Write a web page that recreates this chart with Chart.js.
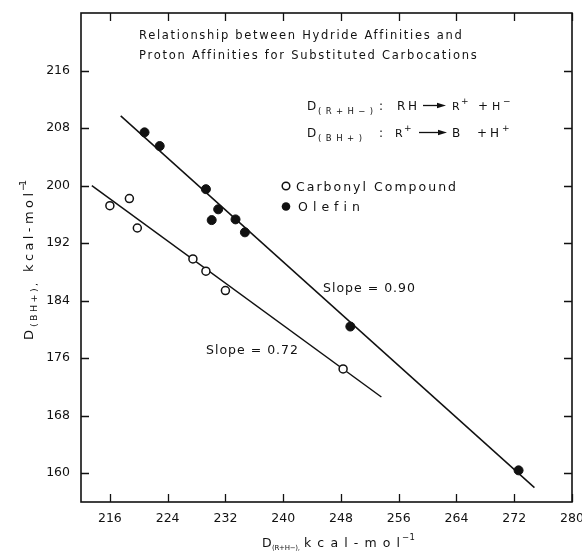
<!DOCTYPE html>
<html>
<head>
<meta charset="utf-8">
<title>Hydride vs proton affinities</title>
<script src="https://cdn.jsdelivr.net/npm/chart.js@4/dist/chart.umd.min.js"></script>
<style>
  html, body { margin: 0; padding: 0; background: #fff; }
  #wrap { width: 582px; height: 552px; position: relative; }
</style>
</head>
<body>
<div id="wrap"><canvas id="chart"></canvas></div>
<script>
  // D(R+H-) on x, D(BH+) on y, kcal/mol
  var carbonylX = [216.0, 218.7, 219.8, 227.5, 229.3, 232.0, 248.3];
  var carbonylY = [197.2, 198.2, 194.1, 189.8, 188.1, 185.4, 174.5];
  var olefinX = [220.8, 222.9, 229.3, 230.1, 231.0, 233.4, 234.7, 249.3, 272.6];
  var olefinY = [207.4, 205.5, 199.5, 195.2, 196.7, 195.3, 193.5, 180.4, 160.4];

  // least-squares lines, end points only
  var carbonylFitX = [213.5, 253.6];
  var carbonylFitY = [200.0, 170.6];
  var olefinFitX = [217.5, 274.8];
  var olefinFitY = [209.7, 158.0];

  var xTicks = [216, 224, 232, 240, 248, 256, 264, 272, 280];
  var yTicks = [160, 168, 176, 184, 192, 200, 208, 216];

  var INK = "#111";
  var FONT = '"DejaVu Sans", sans-serif';

  function pts(xs, ys) {
    return xs.map(function (x, i) { return { x: x, y: ys[i] }; });
  }

  // draw text stretched (via letter spacing) between x0 and x1
  function fitText(ctx, text, x0, x1, y, size) {
    ctx.font = size + "px " + FONT;
    ctx.letterSpacing = "0px";
    var n = Array.from(text).length;
    if (n > 1) {
      var natural = ctx.measureText(text).width;
      ctx.letterSpacing = ((x1 - x0 - natural) / (n - 1)) + "px";
    }
    ctx.fillText(text, x0, y);
    ctx.letterSpacing = "0px";
  }

  function arrow(ctx, x0, x1, y) {
    ctx.beginPath();
    ctx.moveTo(x0, y);
    ctx.lineTo(x1 - 6, y);
    ctx.stroke();
    ctx.beginPath();
    ctx.moveTo(x1, y);
    ctx.lineTo(x1 - 9, y - 2.8);
    ctx.lineTo(x1 - 9, y + 2.8);
    ctx.closePath();
    ctx.fill();
  }

  var framePlugin = {
    id: "frame",
    afterDraw: function (chart) {
      var ctx = chart.ctx;
      var a = chart.chartArea;
      var xs = chart.scales.x, ys = chart.scales.y;
      var TL = 8;
      ctx.save();
      ctx.strokeStyle = INK;
      ctx.fillStyle = INK;
      ctx.lineWidth = 1.6;
      ctx.strokeRect(a.left, a.top, a.right - a.left, a.bottom - a.top);

      // ticks point into the plot on all four sides
      ctx.lineWidth = 1.3;
      ctx.beginPath();
      xTicks.forEach(function (v) {
        var px = Math.round(xs.getPixelForValue(v)) + 0.5;
        ctx.moveTo(px, a.bottom); ctx.lineTo(px, a.bottom - TL);
        ctx.moveTo(px, a.top); ctx.lineTo(px, a.top + TL);
      });
      yTicks.forEach(function (v) {
        var py = Math.round(ys.getPixelForValue(v)) + 0.5;
        ctx.moveTo(a.left, py); ctx.lineTo(a.left + TL, py);
        ctx.moveTo(a.right, py); ctx.lineTo(a.right - TL, py);
      });
      ctx.stroke();

      ctx.textBaseline = "alphabetic";
      ctx.textAlign = "left";

      // heading
      fitText(ctx, "Relationship between Hydride Affinities and", 139, 462, 39, 11.5);
      fitText(ctx, "Proton Affinities for Substituted Carbocations", 139, 477, 59, 11.5);

      // reaction definitions
      ctx.lineWidth = 1.3;
      fitText(ctx, "D", 307, 315, 110, 12);
      fitText(ctx, "(R+H\u2212)", 318, 373, 114, 8.5);
      fitText(ctx, ":", 379, 382, 110, 12);
      fitText(ctx, "RH", 397, 417, 110, 12);
      arrow(ctx, 423, 446, 105.5);
      fitText(ctx, "R", 452, 459, 110, 11);
      fitText(ctx, "+", 461, 467, 104, 9);
      fitText(ctx, "+", 478, 485, 110, 12);
      fitText(ctx, "H", 492, 500, 110, 11);
      fitText(ctx, "\u2212", 503, 514, 104, 9);

      fitText(ctx, "D", 307, 315, 137, 12);
      fitText(ctx, "(BH+)", 318, 362, 141, 8.5);
      fitText(ctx, ":", 379, 382, 137, 12);
      fitText(ctx, "R", 395, 402, 137, 11);
      fitText(ctx, "+", 404, 410, 131, 9);
      arrow(ctx, 419, 447, 132.5);
      fitText(ctx, "B", 452, 460, 137, 12);
      fitText(ctx, "+", 477, 484, 137, 12);
      fitText(ctx, "H", 490, 499, 137, 12);
      fitText(ctx, "+", 502, 509, 131, 9);

      // key
      ctx.lineWidth = 1.5;
      ctx.beginPath();
      ctx.arc(286, 186, 3.8, 0, Math.PI * 2);
      ctx.fillStyle = "#fff";
      ctx.fill();
      ctx.stroke();
      ctx.fillStyle = INK;
      ctx.beginPath();
      ctx.arc(286, 206.5, 4.3, 0, Math.PI * 2);
      ctx.fill();
      fitText(ctx, "Carbonyl Compound", 296, 456, 191, 12.5);
      fitText(ctx, "Olefin", 298, 360, 211, 12.5);

      // slope labels
      fitText(ctx, "Slope = 0.90", 323, 415, 292, 12.5);
      fitText(ctx, "Slope = 0.72", 206, 298, 354, 12.5);

      // x axis title
      fitText(ctx, "D", 262, 271, 547, 12.5);
      fitText(ctx, "(R+H\u2212),", 272, 300, 550, 7);
      fitText(ctx, "kcal-mol", 304, 400, 547, 12.5);
      fitText(ctx, "\u22121", 402, 415, 540, 8.5);

      // y axis title, reads bottom to top
      ctx.translate(33, 340);
      ctx.rotate(-Math.PI / 2);
      fitText(ctx, "D", 0, 10, 0, 13);
      fitText(ctx, "(BH+),", 13, 57, 3.5, 9.5);
      fitText(ctx, "kcal-mol", 68, 147, 0, 13);
      fitText(ctx, "\u22121", 149, 160, -7, 9.5);
      ctx.restore();
    }
  };

  var tickFont = { family: FONT, size: 12.5 };

  new Chart(document.getElementById("chart"), {
    type: "scatter",
    data: {
      datasets: [
        {
          label: "Carbonyl Compound",
          data: pts(carbonylX, carbonylY),
          pointRadius: 4,
          pointBackgroundColor: "#fff",
          pointBorderColor: INK,
          pointBorderWidth: 1.5
        },
        {
          label: "Olefin",
          data: pts(olefinX, olefinY),
          pointRadius: 4.5,
          pointBackgroundColor: INK,
          pointBorderColor: INK,
          pointBorderWidth: 1
        },
        {
          label: "Carbonyl fit",
          data: pts(carbonylFitX, carbonylFitY),
          showLine: true,
          pointRadius: 0,
          borderColor: INK,
          borderWidth: 1.5
        },
        {
          label: "Olefin fit",
          data: pts(olefinFitX, olefinFitY),
          showLine: true,
          pointRadius: 0,
          borderColor: INK,
          borderWidth: 1.5
        }
      ]
    },
    options: {
      responsive: true,
      maintainAspectRatio: false,
      animation: false,
      layout: { autoPadding: false, padding: { top: 13, right: 10, left: 0, bottom: 0 } },
      plugins: { legend: { display: false }, tooltip: { enabled: false } },
      scales: {
        x: {
          type: "linear",
          min: 212,
          max: 280,
          afterBuildTicks: function (s) { s.ticks = xTicks.map(function (v) { return { value: v }; }); },
          // fixed box; end labels may hang past the frame
          afterFit: function (s) { s.height = 50; s.paddingLeft = 0; s.paddingRight = 0; },
          grid: { display: false, drawTicks: false },
          border: { display: false },
          ticks: { color: INK, font: tickFont, padding: 9, maxRotation: 0 }
        },
        y: {
          type: "linear",
          min: 156,
          max: 224,
          afterBuildTicks: function (s) { s.ticks = yTicks.map(function (v) { return { value: v }; }); },
          afterFit: function (s) { s.width = 81; s.paddingTop = 0; s.paddingBottom = 0; },
          grid: { display: false, drawTicks: false },
          border: { display: false },
          ticks: { color: INK, font: tickFont, padding: 11 }
        }
      }
    },
    plugins: [framePlugin]
  });
</script>
</body>
</html>
